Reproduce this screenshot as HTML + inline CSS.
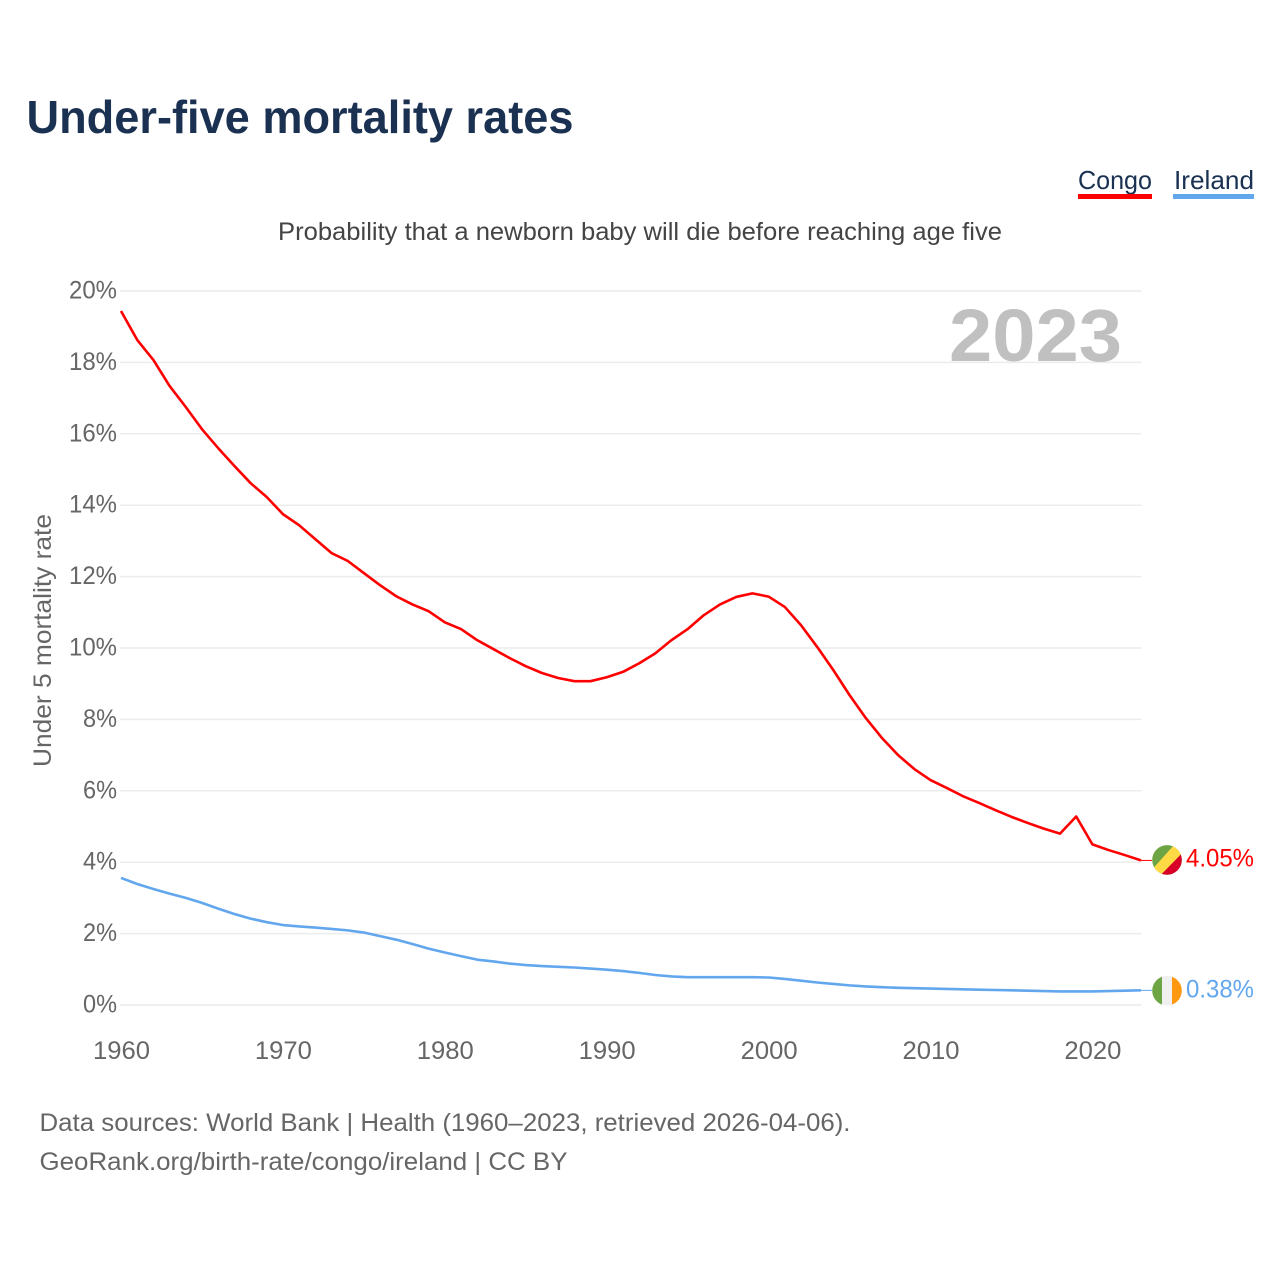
<!DOCTYPE html>
<html lang="en">
<head>
<meta charset="utf-8">
<title>Under-five mortality rates</title>
<style>
html,body{margin:0;padding:0;background:#fff;width:1280px;height:1280px;overflow:hidden}
svg{display:block}
text{font-family:"Liberation Sans",sans-serif}
</style>
</head>
<body>
<svg id="chart" xmlns="http://www.w3.org/2000/svg" width="1280" height="1280" viewBox="0 0 1280 1280">
  <defs>
    <clipPath id="flag-clip"><circle cx="0" cy="0" r="14.8"/></clipPath>
  </defs>
  <text x="26.5" y="133" font-size="46" font-weight="700" fill="#1a3152" textLength="547" lengthAdjust="spacingAndGlyphs">Under-five mortality rates</text>

  <g>
    <text x="1078" y="189" font-size="26" fill="#1a3152" textLength="74" lengthAdjust="spacingAndGlyphs">Congo</text>
    <rect x="1078" y="194" width="74" height="5" fill="#ff0000"/>
    <text x="1174" y="189" font-size="26" fill="#1a3152" textLength="80" lengthAdjust="spacingAndGlyphs">Ireland</text>
    <rect x="1173" y="194" width="81" height="5" fill="#62a7ee"/>
  </g>

  <text x="278" y="240" font-size="25" fill="#444444" textLength="724" lengthAdjust="spacingAndGlyphs">Probability that a newborn baby will die before reaching age five</text>

  <g id="grid"></g>
  <g id="y-ticks"></g>
  <g id="x-ticks"></g>

  <text x="949" y="361" font-size="74" font-weight="700" fill="#c0c0c0" textLength="173" lengthAdjust="spacingAndGlyphs">2023</text>

  <text transform="translate(51,767) rotate(-90)" font-size="25" fill="#666666" textLength="253" lengthAdjust="spacingAndGlyphs">Under 5 mortality rate</text>

  <g id="series"></g>

  <g id="flag-congo">
    <g clip-path="url(#flag-clip)">
      <rect x="-15" y="-15" width="30" height="30" fill="#6da544"/>
      <polygon points="-24,19.7 17,-26 26,-18 -14,26" fill="#ffda44"/>
      <polygon points="-14,23 26,-18 26,26 -14,26" fill="#d80027"/>
    </g>
  </g>
  <g id="flag-ireland">
    <g clip-path="url(#flag-clip)">
      <rect x="-15" y="-15" width="10" height="30" fill="#6da544"/>
      <rect x="-5" y="-15" width="10" height="30" fill="#f0f0f0"/>
      <rect x="5" y="-15" width="10" height="30" fill="#ff9811"/>
    </g>
  </g>
  <text id="label-congo" x="1186" font-size="25" fill="#ff0000" textLength="68" lengthAdjust="spacingAndGlyphs">4.05%</text>
  <text id="label-ireland" x="1186" font-size="25" fill="#62a7ee" textLength="68" lengthAdjust="spacingAndGlyphs">0.38%</text>

  <g>
    <text x="39.5" y="1131" font-size="25" fill="#666666" textLength="811" lengthAdjust="spacingAndGlyphs">Data sources: World Bank | Health (1960–2023, retrieved 2026-04-06).</text>
    <text x="39.5" y="1170" font-size="25" fill="#666666" textLength="528" lengthAdjust="spacingAndGlyphs">GeoRank.org/birth-rate/congo/ireland | CC BY</text>
  </g>
</svg>
<script>
const startYear = 1960;
const yTickValues = [0, 2, 4, 6, 8, 10, 12, 14, 16, 18, 20];
const xTickYears = [1960, 1970, 1980, 1990, 2000, 2010, 2020];
const congoValues = [
  19.44, 18.63, 18.07, 17.34, 16.75, 16.13, 15.6, 15.1, 14.62, 14.23,
  13.75, 13.44, 13.05, 12.66, 12.44, 12.1, 11.76, 11.45, 11.22, 11.03,
  10.72, 10.53, 10.22, 9.97, 9.72, 9.49, 9.3, 9.16, 9.07, 9.07,
  9.18, 9.33, 9.57, 9.85, 10.22, 10.53, 10.92, 11.22, 11.43, 11.53,
  11.44, 11.15, 10.64, 10.03, 9.38, 8.68, 8.04, 7.48, 7.0, 6.61,
  6.3, 6.08, 5.85, 5.66, 5.46, 5.27, 5.1, 4.94, 4.8, 5.28,
  4.5, 4.34, 4.2, 4.05
];
const irelandValues = [
  3.56, 3.39, 3.25, 3.12, 3.0, 2.86, 2.7, 2.55, 2.42, 2.32,
  2.24, 2.2, 2.17, 2.13, 2.09, 2.03, 1.93, 1.83, 1.71, 1.58,
  1.47, 1.37, 1.27, 1.22, 1.16, 1.12, 1.09, 1.07, 1.05, 1.02,
  0.99, 0.95, 0.9, 0.84, 0.8, 0.78, 0.78, 0.78, 0.78, 0.78,
  0.77, 0.73, 0.68, 0.63, 0.59, 0.55, 0.52, 0.5, 0.48, 0.47,
  0.46, 0.45, 0.44, 0.43, 0.42, 0.41, 0.4, 0.39, 0.38, 0.38,
  0.38, 0.39, 0.4, 0.41
];

const SVGNS = 'http://www.w3.org/2000/svg';
const xScale = function (year) { return 121 + (year - startYear) * 16.19; };
const yScale = function (value) { return 1005 - value * 35.7; };
const gridGroup = document.getElementById('grid');
const yGroup = document.getElementById('y-ticks');
const xGroup = document.getElementById('x-ticks');
const seriesGroup = document.getElementById('series');

yTickValues.forEach(function (v) {
  const line = document.createElementNS(SVGNS, 'line');
  
  
  line.setAttribute('x1', 120);
  line.setAttribute('x2', 1141.5);
  line.setAttribute('y1', yScale(v));
  line.setAttribute('y2', yScale(v));
  line.setAttribute('stroke', '#ececec');
  line.setAttribute('stroke-width', 1.5);
  gridGroup.appendChild(line);

  const label = document.createElementNS(SVGNS, 'text');
  
  
  const str = v + '%';
  const width = (str.length - 1) * 14 + 20;
  label.setAttribute('x', 117 - width);
  label.setAttribute('y', yScale(v) + 7.5);
  label.setAttribute('font-size', 25);
  label.setAttribute('fill', '#666666');
  label.setAttribute('textLength', width);
  label.setAttribute('lengthAdjust', 'spacingAndGlyphs');
  label.textContent = str;
  yGroup.appendChild(label);
});

xTickYears.forEach(function (yr) {
  const label = document.createElementNS(SVGNS, 'text');
  
  
  label.setAttribute('x', xScale(yr) - 28);
  label.setAttribute('y', 1059);
  label.setAttribute('font-size', 25);
  label.setAttribute('fill', '#666666');
  label.setAttribute('textLength', 57);
  label.setAttribute('lengthAdjust', 'spacingAndGlyphs');
  label.textContent = yr;
  xGroup.appendChild(label);
});

function drawSeries(values, color, name) {
  const pts = values.map(function (v, i) {
    return xScale(startYear + i).toFixed(2) + ',' + yScale(v).toFixed(2);
  }).join(' ');
  const path = document.createElementNS(SVGNS, 'polyline');
  
  
  path.setAttribute('points', pts);
  path.setAttribute('fill', 'none');
  path.setAttribute('stroke', color);
  path.setAttribute('stroke-width', 2.6);
  path.setAttribute('stroke-linejoin', 'round');
  seriesGroup.appendChild(path);

  const last = values[values.length - 1];
  const conn = document.createElementNS(SVGNS, 'line');
  
  
  conn.setAttribute('x1', xScale(startYear + values.length - 1));
  conn.setAttribute('x2', 1152);
  conn.setAttribute('y1', yScale(last));
  conn.setAttribute('y2', yScale(last));
  conn.setAttribute('stroke', color);
  conn.setAttribute('stroke-width', 1);
  seriesGroup.appendChild(conn);
}
drawSeries(congoValues, '#ff0000', 'congo-line');
drawSeries(irelandValues, '#62a7ee', 'ireland-line');

const congoEndY = yScale(congoValues[congoValues.length - 1]);
const irelandEndY = yScale(irelandValues[irelandValues.length - 1]);
document.getElementById('flag-congo').setAttribute('transform', 'translate(1167,' + (congoEndY - 0.5) + ')');
document.getElementById('flag-ireland').setAttribute('transform', 'translate(1167,' + (irelandEndY + 0.3) + ')');
document.getElementById('label-congo').setAttribute('y', congoEndY + 6);
document.getElementById('label-ireland').setAttribute('y', irelandEndY + 7);
</script>
</body>
</html>
